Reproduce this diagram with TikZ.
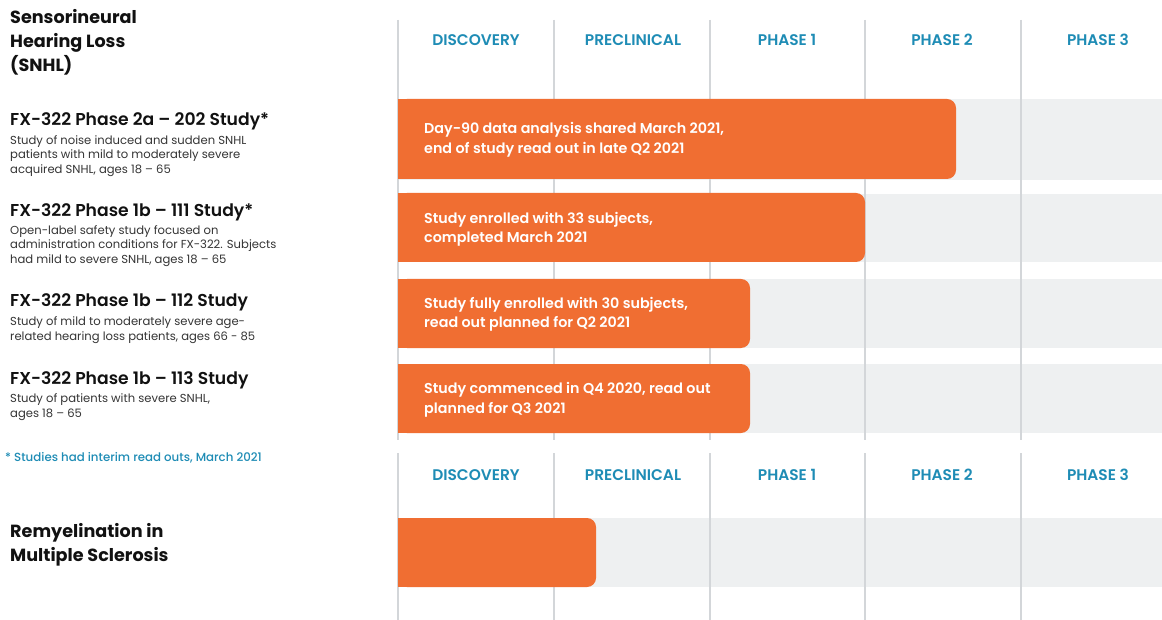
\documentclass[tikz,border=0pt]{standalone}
\usepackage{fontspec}
\setmainfont{Poppins}
\newfontfamily\medfont{Poppins Medium}
\newfontfamily\semifont{Poppins SemiBold}
\definecolor{barorange}{HTML}{F06E32}
\definecolor{track}{HTML}{EEF0F1}
\definecolor{gridgrey}{HTML}{D3D6D9}
\definecolor{headblue}{HTML}{1E8CB5}
\definecolor{ink}{HTML}{111111}
\tikzset{
  txt/.style={inner sep=0pt, anchor=west, align=left, text=ink},
  group/.style={txt, font=\fontsize{17.6}{24}\selectfont\bfseries},
  title/.style={txt, font=\fontsize{17.2}{18}\selectfont\semifont},
  desc/.style={txt, font=\fontsize{11.6}{14.6}\selectfont, text=ink!85},
  phasehead/.style={inner sep=0pt, font=\fontsize{15.4}{16}\selectfont\semifont, text=headblue},
  bartext/.style={inner sep=0pt, anchor=west, align=left, text=white, font=\fontsize{14.3}{19.5}\selectfont\semifont},
  gridline/.style={draw=gridgrey, line width=1.3pt},
  trackfill/.style={fill=track},
  barfill/.style={fill=barorange},
  note/.style={inner sep=0pt, anchor=west, text=headblue, font=\fontsize{11.8}{12}\selectfont\medfont}
}
\begin{document}
\begin{tikzpicture}[x=1pt, y=-1pt]
\useasboundingbox (0,0) rectangle (1162,620);
\fill[white] (0,0) rectangle (1162,620);

% grey tracks behind each programme row
\foreach \ya/\yb in {99/180, 194/262, 279/348, 364/433, 518/587}
  \fill[trackfill] (398,\ya) rectangle (1162,\yb);

% stage separators
\foreach \x in {398, 554, 710, 865, 1021} {
  \draw[gridline] (\x,20) -- (\x,440);
  \draw[gridline] (\x,453) -- (\x,620);
}

% progress bars: square start, rounded end
\foreach \ya/\yb/\xe in {99/179/956, 193/262/865, 279/348/750, 364/433/750, 518/587/596} {
  \fill[barfill, rounded corners=9pt] (398,\ya) rectangle (\xe,\yb);
  \fill[barfill] (398,\ya) rectangle (420,\yb);
}

% stage headers
\foreach \y/\s in {40/a, 475/b} {
  \node[phasehead] (disc\s) at (476,\y) {DISCOVERY};
  \node[phasehead] (prec\s) at (633,\y) {PRECLINICAL};
  \node[phasehead] (pone\s) at (787,\y) {PHASE 1};
  \node[phasehead] (ptwo\s) at (942,\y) {PHASE 2};
  \node[phasehead] (pthr\s) at (1098,\y) {PHASE 3};
}

% left-hand labels
\node[group] (snhl) at (10,42) {Sensorineural\\Hearing Loss\\(SNHL)};

\node[title] (s202) at (10,121) {FX-322 Phase 2a – 202 Study*};
\node[desc] (d202) at (10,156) {Study of noise induced and sudden SNHL\\patients with mild to moderately severe\\acquired SNHL, ages 18 – 65};

\node[title] (s111) at (10,212) {FX-322 Phase 1b – 111 Study*};
\node[desc] (d111) at (10,246) {Open-label safety study focused on\\administration conditions for FX-322. Subjects\\had mild to severe SNHL, ages 18 – 65};

\node[title] (s112) at (10,302) {FX-322 Phase 1b – 112 Study};
\node[desc] (d112) at (10,330) {Study of mild to moderately severe age-\\related hearing loss patients, ages 66 - 85};

\node[title] (s113) at (10,380) {FX-322 Phase 1b – 113 Study};
\node[desc] (d113) at (10,407) {Study of patients with severe SNHL,\\ages 18 – 65};

\node[note] (foot) at (5,458) {* Studies had interim read outs, March 2021};

\node[group] (ms) at (10,545) {Remyelination in\\Multiple Sclerosis};

% bar captions
\node[bartext] (b202) at (424,140) {Day-90 data analysis shared March 2021,\\end of study read out in late Q2 2021};
\node[bartext] (b111) at (424,229.5) {Study enrolled with 33 subjects,\\completed March 2021};
\node[bartext] (b112) at (424,314.5) {Study fully enrolled with 30 subjects,\\read out planned for Q2 2021};
\node[bartext] (b113) at (424,400) {Study commenced in Q4 2020, read out\\planned for Q3 2021};
\end{tikzpicture}
\end{document}
